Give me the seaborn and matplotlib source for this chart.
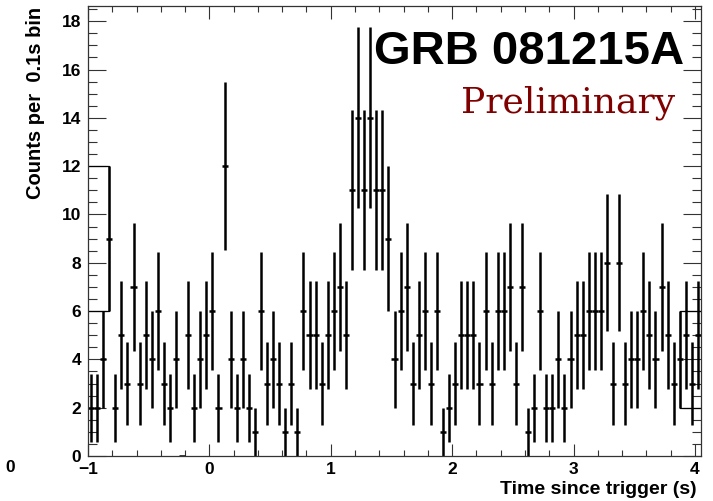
import numpy as np
import matplotlib
matplotlib.use("Agg")
import matplotlib.pyplot as plt
import seaborn as sns
from matplotlib.ticker import MultipleLocator

# light curve, 0.1 s counts sampled every 0.05 s starting at -0.975 s
t_start = -0.975
t_step = 0.05
counts = [2, 2, 4, 9, 2, 5, 3, 7, 3, 5, 4, 6, 3, 2, 4, 0, 5, 2, 4, 5, 6, 2, 12, 4, 2,
          4, 2, 1, 6, 3, 4, 3, 1, 3, 1, 6, 5, 5, 3, 5, 6, 7, 5, 11, 14, 11, 14, 11, 11, 9,
          4, 6, 7, 3, 5, 6, 3, 6, 1, 2, 3, 5, 5, 5, 3, 6, 3, 6, 6, 7, 3, 7, 1, 2, 6,
          2, 2, 4, 2, 4, 5, 5, 6, 6, 6, 8, 3, 8, 3, 4, 4, 6, 5, 4, 7, 5, 3, 4, 5, 3, 5]

x_ticks = [-1, 0, 1, 2, 3, 4]
y_ticks = [0, 2, 4, 6, 8, 10, 12, 14, 16, 18]

title = "GRB 081215A"
subtitle = "Preliminary"
xlabel = "Time since trigger (s)"
ylabel = "Counts per  0.1s bin"

counts = np.array(counts, dtype=float)
times = t_start + t_step * np.arange(len(counts))
errs = np.sqrt(counts)

sns.set_theme(style="ticks", rc={"text.color": "black", "xtick.color": "black",
                                 "ytick.color": "black", "axes.labelcolor": "black"})
plt.rcParams["font.family"] = ["Liberation Sans", "DejaVu Sans"]
plt.rcParams["font.weight"] = "bold"

W, H = 713, 501
fig = plt.figure(figsize=(W / 100, H / 100), dpi=100)
ax = fig.add_axes([88 / W, 45 / H, 613 / W, 450 / H])

ax.errorbar(times, counts, yerr=errs, xerr=t_step / 2, fmt="none",
            ecolor="black", elinewidth=1.8, capsize=0)

# leftover outline boxes at the plot edges
xmin, xmax = -1.0, 4.05
i_l, i_r = 3, 97
lo, hi = counts[i_l] - errs[i_l], counts[i_l] + errs[i_l]
ax.plot([xmin, times[i_l], times[i_l], xmin], [hi, hi, lo, lo], color="black", lw=0.9)
lo, hi = counts[i_r] - errs[i_r], counts[i_r] + errs[i_r]
ax.plot([xmax, times[i_r], times[i_r], xmax], [hi, hi, lo, lo], color="black", lw=0.9)

ax.set_xlim(xmin, xmax)
ax.set_ylim(0, 18.63)
ax.set_xticks(x_ticks)
ax.set_yticks(y_ticks)
ax.xaxis.set_minor_locator(MultipleLocator(0.2))
ax.yaxis.set_minor_locator(MultipleLocator(0.5))
ax.tick_params(axis="both", which="both", direction="in", top=True, right=True,
               width=0.8, color="#333333", labelsize=12.5)
ax.tick_params(axis="x", which="major", length=9, pad=4)
ax.tick_params(axis="x", which="minor", length=4.5)
ax.tick_params(axis="y", which="major", length=13, pad=5)
ax.tick_params(axis="y", which="minor", length=6.5)
for lab in ax.get_xticklabels() + ax.get_yticklabels():
    lab.set_fontweight("bold")
for sp in ax.spines.values():
    sp.set_linewidth(0.9)
    sp.set_color("#333333")

fig.text(36 / W, 1 - 7 / H, ylabel, rotation=90, ha="center", va="top",
         fontsize=14.5, fontweight="bold")
fig.text(697 / W, 1 - 489 / H, xlabel, ha="right", va="center",
         fontsize=14, fontweight="bold")
fig.text(5 / W, 1 - 467 / H, "0", ha="left", va="center",
         fontsize=12.5, fontweight="bold")

fig.text(684 / W, 1 - 64 / H, title, ha="right", va="baseline",
         fontsize=34, fontweight="bold")
fig.text(675 / W, 1 - 112 / H, subtitle, ha="right", va="baseline",
         fontsize=26, fontweight="normal", color="#800000",
         family=["DejaVu Serif", "Liberation Serif"])

fig.savefig("out.png", dpi=100)
